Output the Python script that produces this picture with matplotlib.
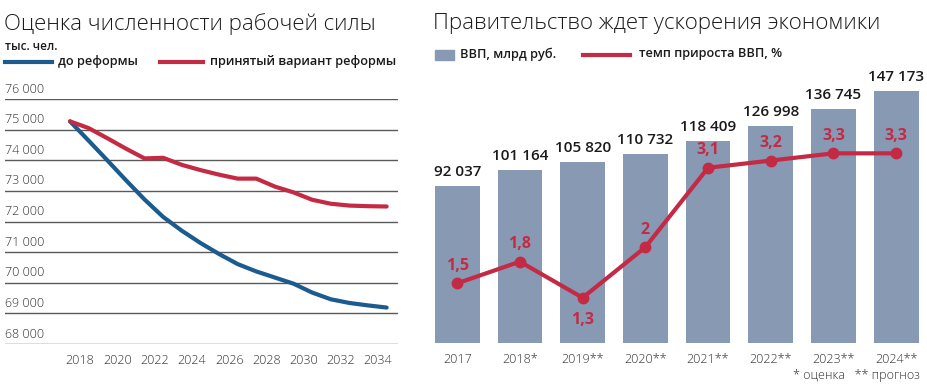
import matplotlib
matplotlib.use('Agg')
import matplotlib.pyplot as plt
from matplotlib.patches import Rectangle
from matplotlib.lines import Line2D

# ---------------- data ----------------
years = list(range(2018, 2036))
before_reform = [75270, 74640, 74000, 73350, 72720, 72150, 71700, 71300, 70940,
                 70610, 70370, 70170, 69970, 69680, 69460, 69340, 69260, 69190]
adopted_reform = [75270, 75050, 74720, 74380, 74060, 74080, 73850, 73680, 73530,
                  73400, 73400, 73140, 72950, 72710, 72580, 72520, 72500, 72490]
left_yticks = [68000, 69000, 70000, 71000, 72000, 73000, 74000, 75000, 76000]
left_ytick_labels = ["68 000", "69 000", "70 000", "71 000", "72 000", "73 000",
                     "74 000", "75 000", "76 000"]
left_xticks = [2018, 2020, 2022, 2024, 2026, 2028, 2030, 2032, 2034]

gdp_periods = ["2017", "2018*", "2019**", "2020**", "2021**", "2022**", "2023**", "2024**"]
gdp_values = [92037, 101164, 105820, 110732, 118409, 126998, 136745, 147173]
gdp_labels = ["92 037", "101 164", "105 820", "110 732", "118 409", "126 998", "136 745", "147 173"]
growth = [1.5, 1.8, 1.3, 2.0, 3.1, 3.2, 3.3, 3.3]
growth_labels = ["1,5", "1,8", "1,3", "2", "3,1", "3,2", "3,3", "3,3"]

# ---------------- style ----------------
W, H = 928, 390
fig = plt.figure(figsize=(W / 100, H / 100), dpi=100)
FAM = ['Open Sans', 'DejaVu Sans']
BLUE = '#1b5b8e'
RED = '#c52a45'
BAR = '#8799b3'
GRID = '#5a5a5a'
TXT = '#1a1a1a'


def px_axes(x0, y0, x1, y1):
    return fig.add_axes([x0 / W, 1 - y1 / H, (x1 - x0) / W, (y1 - y0) / H])


def ftext(x, y, s, **kw):
    kw.setdefault('family', FAM)
    fig.text(x / W, 1 - y / H, s, **kw)


# ---------------- left chart ----------------
ax1 = px_axes(5, 99, 398, 344)
ax1.set_xlim(2014.51, 2035.61)
ax1.set_ylim(68000, 76000)
ax1.axis('off')
for v, lab in zip(left_yticks, left_ytick_labels):
    ax1.axhline(v, color=GRID, lw=1.0, zorder=1)
    ax1.annotate(lab, xy=(0, v), xycoords=('axes fraction', 'data'),
                 xytext=(0, 2.5), textcoords='offset points', ha='left', va='bottom',
                 fontsize=9, family=FAM, weight='light', color='#333333')
for yr in left_xticks:
    ax1.annotate(str(yr), xy=(yr + 0.54, 0), xycoords=('data', 'axes fraction'),
                 xytext=(0, -7), textcoords='offset points', ha='center', va='top',
                 fontsize=9, family=FAM, weight='light', color='#333333')
ax1.plot(years, before_reform, color=BLUE, lw=3.0, solid_capstyle='round',
         solid_joinstyle='round', zorder=3)
ax1.plot(years, adopted_reform, color=RED, lw=3.0, solid_capstyle='round',
         solid_joinstyle='round', zorder=3)

ftext(4, 24, "Оценка численности рабочей силы", fontsize=16, weight='light',
      color=TXT, va='center', ha='left')
ftext(5, 46, "тыс. чел.", fontsize=8.5, weight='semibold', color=TXT, va='center')
fig.add_artist(Line2D([5 / W, 52 / W], [1 - 62 / H] * 2, color=BLUE, lw=3.0))
ftext(58, 61, "до реформы", fontsize=9.2, weight='semibold', color=TXT, va='center')
fig.add_artist(Line2D([160 / W, 203 / W], [1 - 62 / H] * 2, color=RED, lw=3.0))
ftext(210, 61, "принятый вариант реформы", fontsize=9.2, weight='semibold',
      color=TXT, va='center')

# ---------------- right chart ----------------
x0, y0, x1, ybase = 430, 80, 925, 343.3
ax2 = px_axes(x0, y0, x1, ybase)
n = len(gdp_values)
xs = list(range(n))
ax2.set_xlim(-0.434, 7.46)
ax2.set_ylim(0, (ybase - y0) / 1.712 * 1000)
ax2.axis('off')
ax2.bar(xs, gdp_values, width=0.715, color=BAR, zorder=1)
for x, v, lab in zip(xs, gdp_values, gdp_labels):
    ax2.annotate(lab, xy=(x, v), xytext=(0, 5), textcoords='offset points',
                 ha='center', va='bottom', fontsize=11, weight='semibold',
                 family=FAM, color=TXT)
for x, lab in zip(xs, gdp_periods):
    ax2.annotate(lab, xy=(x, 0), xycoords=('data', 'axes fraction'),
                 xytext=(0, -7), textcoords='offset points', ha='center', va='top',
                 fontsize=9, weight='light', family=FAM, color='#333333')

ax3 = ax2.twinx()
ax3.set_ylim(0.669, 0.669 + (ybase - y0) / 72.2)
ax3.axis('off')
ax3.plot(xs, growth, color=RED, lw=3.0, marker='o', markersize=7.5,
         solid_joinstyle='round', zorder=3)
for x, v, lab in zip(xs, growth, growth_labels):
    below = lab == "1,3"
    ax3.annotate(lab, xy=(x, v), xytext=(0, -16 if below else 12.5),
                 textcoords='offset points', ha='center', va='center',
                 fontsize=11.5, weight='bold', family=FAM, color=RED)

ftext(433, 24, "Правительство ждет ускорения экономики", fontsize=16,
      weight='light', color=TXT, va='center', ha='left')
fig.add_artist(Rectangle((435 / W, 1 - 59.5 / H), 19 / W, 9.5 / H,
                         color=BAR, transform=fig.transFigure))
ftext(460, 54, "ВВП, млрд руб.", fontsize=9.2, weight='semibold', color=TXT, va='center')
fig.add_artist(Line2D([583 / W, 630 / W], [1 - 55 / H] * 2, color=RED, lw=3.0))
ftext(639, 54, "темп прироста ВВП, %", fontsize=9.2, weight='semibold',
      color=TXT, va='center')
ftext(920, 376, "* оценка   ** прогноз", fontsize=9, weight='light',
      color='#333333', va='center', ha='right')

fig.savefig('out.png', dpi=100)
